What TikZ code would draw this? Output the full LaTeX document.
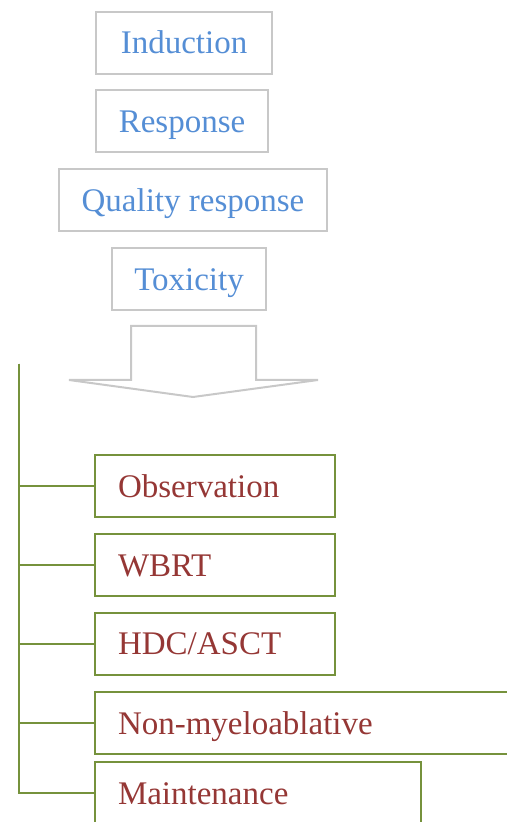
\documentclass[tikz,border=0pt]{standalone}
\usepackage{fontspec}
\setmainfont{Liberation Serif}
\usepackage{tikz}
\usetikzlibrary{positioning}

\definecolor{topgray}{RGB}{200,200,200}
\definecolor{topblue}{RGB}{85,142,213}
\definecolor{optgreen}{RGB}{118,146,60}
\definecolor{optred}{RGB}{149,55,53}

\begin{document}
\begin{tikzpicture}[x=0.5pt, y=-0.5pt, font=\fontsize{16.5}{20}\selectfont,
  crit/.style = {draw=topgray, line width=1pt, text=topblue, minimum height=31pt, inner sep=0pt, text height=13pt, text depth=2pt},
  opt/.style = {draw=optgreen, line width=1pt, text=optred, minimum height=31pt, anchor=west, align=left, inner xsep=11.5pt, inner ysep=0pt, text height=13pt, text depth=2pt},
  link/.style = {draw=optgreen, line width=1pt}]
\useasboundingbox (0,0) rectangle (507,822);
\clip (0,0) rectangle (507,822);

% criteria
\node[crit, minimum width=88pt] (ind) at (184,43) {Induction};
\node[crit, minimum width=86pt] (resp) at (182,121.5) {Response};
\node[crit, minimum width=134pt] (qual) at (193,200.5) {Quality response};
\node[crit, minimum width=77pt] (tox) at (189,279.5) {Toxicity};

% big arrow
\draw[topgray, line width=1pt] (131,326) -- (256,326) -- (256,380) -- (318,380)
  -- (193,397) -- (69,380) -- (131,380) -- cycle;

% options
\node[opt, text width=97pt] (obs) at (94,486) {Observation};
\node[opt, text width=97pt] (wbrt) at (94,565) {WBRT};
\node[opt, text width=97pt] (hdc) at (94,643.5) {HDC/ASCT};
\node[opt, text width=190pt] (nma) at (94,723) {Non-myeloablative};
\node[opt, text width=140pt] (mnt) at (94,793) {Maintenance};

\coordinate (trunk) at (19,364);
\draw[link] (trunk) |- (mnt.west);
\draw[link] (trunk) |- (obs.west);
\draw[link] (trunk) |- (wbrt.west);
\draw[link] (trunk) |- (hdc.west);
\draw[link] (trunk) |- (nma.west);

\end{tikzpicture}
\end{document}
